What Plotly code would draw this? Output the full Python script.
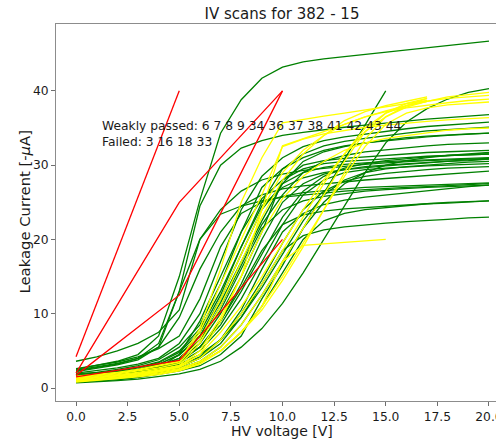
import plotly.graph_objects as go

# ---------------- data ----------------
voltage = list(range(0, 21))  # HV voltage steps [V]

weakly_passed = [6, 7, 8, 9, 34, 36, 37, 38, 41, 42, 43, 44]
failed = [3, 16, 18, 33]

# failed modules: coarse 5 V steps
red_v = [
    [0, 5],
    [0, 5, 10],
    [0, 5, 10],
    [0, 5, 10],
]
red_i = [
    [4.2, 40.0],
    [2.0, 25.0, 40.0],
    [1.7, 12.5, 40.0],
    [1.5, 3.7, 20.0],
]

green_i = [
    [2.5, 3.0, 3.6, 4.5, 7.0, 15, 25.3, 34.3, 38.8, 41.7, 43.2, 43.9, 44.3, 44.6, 44.9, 45.2, 45.5, 45.8, 46.1, 46.4, 46.7],
    [2.2, 2.6, 3.1, 3.8, 5.5, 13, 24.5, 30, 32.3, 33.3, 34.0, 34.4, 34.8, 35.1, 35.4, 35.7, 36.0, 36.2, 36.4, 36.6, 36.8],
    [3.6, 4.2, 5.0, 6.0, 7.5, 10.5, 20, 23.4, 24.5, 25.2, 25.7, 26.0, 26.3, 26.5, 26.7, 26.9, 27.0, 27.1, 27.2, 27.4, 27.5],
    [2.0, 2.3, 2.7, 3.2, 4.0, 6.0, 10, 17, 24, 28.5, 31, 32.5, 33.3, 33.8, 34.2, 34.6, 34.9, 35.2, 35.4, 35.6, 35.8],
    [1.8, 2.0, 2.3, 2.8, 3.5, 5.0, 8.0, 13, 19, 25, 29.5, 31.5, 32.6, 33.2, 33.6, 34.0, 34.3, 34.6, 34.8, 35.0, 35.1],
    [1.6, 1.8, 2.1, 2.5, 3.2, 4.5, 7.0, 11.5, 17, 22.5, 27.5, 30.5, 31.8, 32.5, 33.0, 33.3, 33.6, 33.8, 34.0, 34.2, 34.3],
    [1.4, 1.6, 1.9, 2.3, 2.9, 4.0, 6.5, 11, 16.5, 22, 26, 29, 30.5, 31.3, 31.8, 32.1, 32.4, 32.6, 32.8, 32.9, 33.0],
    [1.3, 1.5, 1.8, 2.2, 2.8, 3.8, 6.0, 10, 15, 21, 28, 30, 30.6, 30.9, 31.1, 31.3, 31.5, 31.7, 31.8, 31.9, 32.0],
    [1.2, 1.4, 1.7, 2.1, 2.7, 4.5, 9, 15, 21, 25.5, 28, 29.5, 30.2, 30.5, 30.7, 30.9, 31.0, 31.2, 31.3, 31.4, 31.5],
    [1.1, 1.3, 1.6, 2.0, 2.6, 3.5, 5.5, 9, 14, 20, 25, 27.5, 28.8, 29.4, 29.8, 30.0, 30.2, 30.4, 30.5, 30.7, 30.8],
    [1.0, 1.2, 1.5, 1.9, 2.5, 3.4, 5.0, 8, 12, 17, 22, 26, 28, 29, 29.4, 29.6, 29.8, 29.9, 30.0, 30.1, 30.2],
    [0.9, 1.1, 1.3, 1.6, 2.1, 2.8, 4.0, 6.5, 10, 14.5, 19.5, 24, 26.5, 27.8, 28.5, 28.9, 29.2, 29.4, 29.6, 29.7, 29.8],
    [2.6, 3.0, 3.5, 4.2, 5.3, 7.0, 12, 19, 23.5, 25, 25.8, 26.3, 26.6, 26.8, 27.0, 27.1, 27.2, 27.3, 27.4, 27.5, 27.6],
    [1.5, 1.7, 2.0, 2.4, 3.0, 4.0, 6.5, 10.5, 16, 21.5, 24, 25.2, 25.8, 26.2, 26.5, 26.7, 26.9, 27.0, 27.1, 27.2, 27.3],
    [1.2, 1.4, 1.6, 2.0, 2.6, 3.5, 5.5, 9, 13.5, 18.5, 22, 23.3, 23.8, 24.1, 24.3, 24.5, 24.7, 24.8, 24.9, 25.1, 25.2],
    [1.0, 1.2, 1.4, 1.7, 2.1, 2.8, 4.0, 6.0, 9.5, 14, 18.5, 20.5, 21.3, 21.7, 22.0, 22.2, 22.4, 22.6, 22.7, 22.9, 23.0],
    [0.7, 0.8, 1.0, 1.2, 1.5, 1.9, 2.5, 3.6, 5.5, 8.0, 11.4, 15.5, 20, 24.5, 29, 33, 35.8, 37.6, 38.9, 39.8, 40.3],
    [0.8, 0.9, 1.1, 1.4, 1.8, 2.3, 3.0, 4.5, 7.0, 12, 16.5, 21.5, 26.2, 30.8, 35.5, 40.0],
    [1.9, 2.1, 2.5, 3.0, 3.8, 5.5, 8.5, 14, 21, 27, 29.5, 31, 32, 32.6, 33.0, 33.4, 33.7, 33.9, 34.1, 34.2, 34.3],
    [1.5, 1.7, 2.0, 2.5, 3.2, 4.4, 7.0, 12, 18, 24, 27.5, 29, 29.7, 30.1, 30.3, 30.5, 30.6, 30.7, 30.8, 30.9, 31.0],
    [1.2, 1.4, 1.6, 2.0, 2.5, 3.2, 4.5, 6.5, 9.5, 13.5, 18, 22.5, 26, 28, 29, 29.5, 29.8, 30.0, 30.2, 30.4, 30.5],
    [2.4, 2.8, 3.3, 4.0, 5.5, 9.5, 16, 21, 24.5, 26, 26.8, 27.2, 27.5, 27.8, 28.0, 28.2, 28.4, 28.6, 28.8, 29.0, 29.2],
    [2.3, 2.7, 3.2, 4.0, 6.0, 13, 20, 24, 26.5, 28, 28.8, 29.3, 29.6, 29.9, 30.1, 30.3, 30.5, 30.6, 30.7, 30.8, 30.9],
    [1.0, 1.1, 1.3, 1.6, 2.0, 2.6, 3.6, 5.5, 8.5, 12.5, 17, 21.5, 25, 27.5, 29, 30, 30.6, 31.0, 31.3, 31.5, 31.7],
    [1.3, 1.5, 1.8, 2.2, 2.8, 3.7, 5.5, 8.5, 13, 18, 23, 26.5, 28.5, 29.6, 30.2, 30.6, 30.9, 31.1, 31.3, 31.4, 31.5],
    [1.7, 1.9, 2.2, 2.7, 3.4, 4.8, 7.5, 12.5, 19, 24.5, 27, 28.3, 29.0, 29.4, 29.7, 29.9, 30.1, 30.3, 30.5, 30.6, 30.8],
    [1.1, 1.3, 1.5, 1.8, 2.3, 3.0, 4.2, 6.5, 10.5, 16, 21, 23.5, 24.7, 25.3, 25.7, 26.0, 26.3, 26.6, 26.8, 27.1, 27.3],
    [0.9, 1.0, 1.2, 1.5, 1.9, 2.5, 3.4, 5.0, 7.5, 11, 15.5, 20, 22.5, 23.5, 24.0, 24.3, 24.6, 24.8, 25.0, 25.1, 25.2],
]

yellow_i = [
    [0.9, 1.1, 1.4, 1.7, 2.0, 2.5, 3.5, 5, 7.5, 11, 17, 19.2, 19.4, 19.6, 19.8, 20.0],
    [1.2, 1.4, 1.7, 2.0, 2.4, 3.0, 4.5, 7.5, 11, 15, 19.5, 24, 28, 31.5, 34.5, 36.5, 37.8, 38.6, 39.2, 39.5, 39.8],
    [1.0, 1.2, 1.5, 1.8, 2.2, 2.8, 4.0, 6.5, 10, 14, 18.5, 23, 27.5, 31.5, 35, 37, 38, 38.6, 39.0, 39.2, 39.4],
    [1.4, 1.6, 1.9, 2.3, 2.7, 3.3, 6.5, 12, 18, 24, 29, 32, 34, 35.5, 36.5, 37.2, 37.7, 38.1, 38.4, 38.7, 38.9],
    [0.8, 1.0, 1.2, 1.5, 1.8, 2.3, 3.2, 5, 7.5, 11, 15, 19.5, 24, 28.5, 32.5, 35.5, 37.0, 37.7, 38.1, 38.3, 38.5],
    [1.5, 1.7, 2.0, 2.4, 2.9, 3.5, 7.5, 14, 20, 26, 32.5, 33.5, 34.2, 34.7, 35.1, 35.4, 35.7, 35.9, 36.1, 36.3, 36.4],
    [1.1, 1.3, 1.6, 1.9, 2.3, 2.9, 5, 9.5, 15, 21, 25.5, 28.5, 30.5, 32, 33, 33.6, 34.0, 34.4, 34.7, 34.9, 35.0],
    [1.3, 1.5, 1.8, 2.1, 2.5, 3.0, 6, 11, 17, 23, 28, 31.5, 34, 36, 37.2, 38.0, 38.6, 39.2],
    [1.0, 1.2, 1.4, 1.7, 2.1, 2.6, 3.6, 5.5, 8.5, 12.5, 17, 21.5, 26, 30.5, 34.5, 37, 38.3, 39.0],
    [0.9, 1.1, 1.3, 1.6, 1.9, 2.4, 3.3, 5, 7.5, 10.5, 14.5, 19, 24, 29, 33.5, 36.5, 38, 38.6],
    [1.6, 1.8, 2.1, 2.5, 3.0, 3.6, 8, 16, 25, 31, 35.7, 36.2, 36.6, 37.0, 37.4, 37.9, 38.3, 38.7],
    [1.2, 1.4, 1.6, 1.9, 2.3, 2.8, 4.5, 9, 15, 24, 32.6, 33.5, 34.5, 35.5, 36.5, 37.3, 38.0, 39.0],
]

title_text = "IV scans for 382 - 15"
x_label = "HV voltage [V]"
y_label = "Leakage Current [-<i>μ</i>A]"
x_ticks = [0.0, 2.5, 5.0, 7.5, 10.0, 12.5, 15.0, 17.5, 20.0]
y_ticks = [0, 10, 20, 30, 40]

# ---------------- figure ----------------
fig = go.Figure()
LW = 1.3

for cur in green_i:
    fig.add_trace(go.Scatter(x=voltage[:len(cur)], y=cur, mode="lines",
                             line=dict(color="#008000", width=LW), showlegend=False))
for cur in yellow_i:
    fig.add_trace(go.Scatter(x=voltage[:len(cur)], y=cur, mode="lines",
                             line=dict(color="#FFFF00", width=LW), showlegend=False))
for vv, cur in zip(red_v, red_i):
    fig.add_trace(go.Scatter(x=vv, y=cur, mode="lines",
                             line=dict(color="#FF0000", width=LW), showlegend=False))

TXT = "#1a1a1a"
FONT = "DejaVu Sans"

ann_text = ("Weakly passed: " + " ".join(str(m) for m in weakly_passed)
            + "<br>Failed: " + " ".join(str(m) for m in failed))
fig.add_annotation(x=1.16, y=34.25, xref="x", yref="y", text=ann_text,
                   showarrow=False, xanchor="left", yanchor="middle", align="left",
                   font=dict(family=FONT, size=12.3, color=TXT))

# axis titles placed as annotations for precise positioning
fig.add_annotation(x=(282 - 56) / 440, y=(401 - 431) / 377, xref="paper", yref="paper",
                   text=x_label, showarrow=False, xanchor="center", yanchor="middle",
                   font=dict(family=FONT, size=14, color=TXT))
fig.add_annotation(x=(24 - 56) / 440, y=0.5, xref="paper", yref="paper",
                   text=y_label, textangle=-90, showarrow=False,
                   xanchor="center", yanchor="middle",
                   font=dict(family=FONT, size=14.8, color=TXT))

axis_common = dict(showgrid=False, zeroline=False, showline=True, linecolor="#8c8c8c",
                   linewidth=1, ticks="outside", ticklen=4, tickcolor="#6e6e6e",
                   automargin=False,
                   tickfont=dict(family=FONT, size=12.3, color=TXT))

fig.update_layout(
    width=496, height=439,
    margin=dict(l=56, r=0, t=24, b=38, autoexpand=False),
    paper_bgcolor="white", plot_bgcolor="white",
    title=dict(text=title_text, x=282 / 496, xanchor="center", y=1 - 14 / 439,
               yanchor="middle", font=dict(family=FONT, size=15, color=TXT)),
    xaxis=dict(range=[-0.97, 20.34], tickvals=x_ticks,
               ticktext=[f"{t:.1f}" for t in x_ticks], mirror=True,
               ticklabeloverflow="allow",
               **axis_common),
    yaxis=dict(range=[-1.75, 49.0], tickvals=y_ticks,
               **axis_common),
)

fig.write_html("out.html")
